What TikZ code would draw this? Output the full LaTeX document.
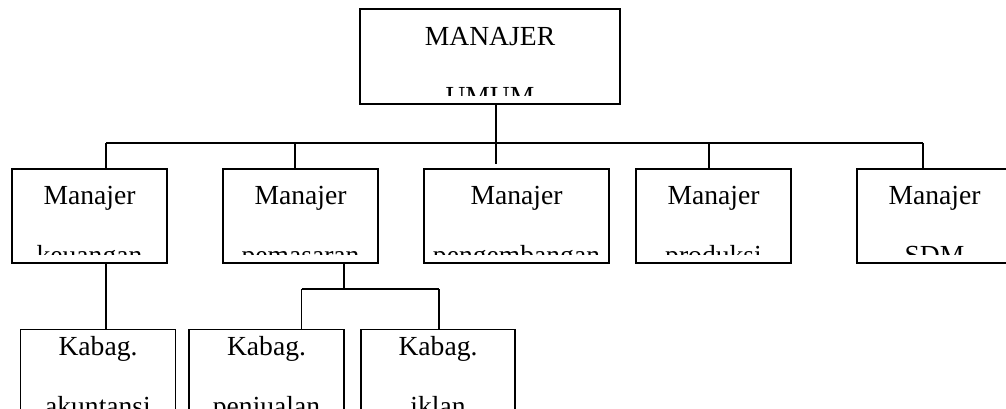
\documentclass[tikz,border=0pt]{standalone}
\usepackage{fontspec}
\setmainfont{Liberation Serif}
\begin{document}
\begin{tikzpicture}[x=1pt,y=-1pt,
  orgbox/.style={draw=black,line width=1.5pt,inner sep=0pt,outer sep=0pt,rectangle},
  lbl/.style={anchor=base,inner sep=0pt,font=\fontsize{27.6pt}{33pt}\selectfont},
  link/.style={draw=black,line width=1.5pt}]
\clip (0,0) rectangle (1006,408);
\fill[white] (0,0) rectangle (1006,408);
% ---------- boxes ----------
\node[orgbox,minimum width=260pt,minimum height=95pt] (top) at (490,56.5) {};
\node[orgbox,minimum width=155pt,minimum height=94pt] (keu) at (89.5,216) {};
\node[orgbox,minimum width=155pt,minimum height=94pt] (pem) at (300.5,216) {};
\node[orgbox,minimum width=185pt,minimum height=94pt] (pen) at (516.5,216) {};
\node[orgbox,minimum width=155pt,minimum height=94pt] (pro) at (713.5,216) {};
\node[orgbox,minimum width=155pt,minimum height=94pt] (sdm) at (934.5,216) {};
\node[orgbox,minimum width=155pt,minimum height=120pt] (aku) at (98,389.3) {};
\node[orgbox,minimum width=155pt,minimum height=120pt] (jual) at (266.5,389.3) {};
\node[orgbox,minimum width=154pt,minimum height=120pt] (ikl) at (438,389.3) {};
% ---------- texts (second lines clipped as in the reference) ----------
\begin{scope}\clip (360,9) rectangle (620,95);
  \node[lbl] (tTop1) at (490,45) {MANAJER};
  \node[lbl] (tTop2) at (490,105) {UMUM};
\end{scope}
\begin{scope}\clip (12,169) rectangle (167,254);
  \node[lbl] (tKeu1) at (89.5,204) {Manajer};
  \node[lbl] (tKeu2) at (89.5,264) {keuangan};
\end{scope}
\begin{scope}\clip (223,169) rectangle (378,254);
  \node[lbl] (tPem1) at (300.5,204) {Manajer};
  \node[lbl] (tPem2) at (300.5,264) {pemasaran};
\end{scope}
\begin{scope}\clip (424,169) rectangle (609,254);
  \node[lbl] (tPen1) at (516.5,204) {Manajer};
  \node[lbl] (tPen2) at (516.5,264) {pengembangan};
\end{scope}
\begin{scope}\clip (636,169) rectangle (791,254);
  \node[lbl] (tPro1) at (713.5,204) {Manajer};
  \node[lbl] (tPro2) at (713.5,264) {produksi};
\end{scope}
\begin{scope}\clip (857,169) rectangle (1012,254);
  \node[lbl] (tSdm1) at (934.5,204) {Manajer};
  \node[lbl] (tSdm2) at (934.5,264) {SDM};
\end{scope}
\node[lbl] (tAku1) at (98,355) {Kabag.};
\node[lbl] (tAku2) at (98,415) {akuntansi};
\node[lbl] (tJual1) at (266.5,355) {Kabag.};
\node[lbl] (tJual2) at (266.5,415) {penjualan};
\node[lbl] (tIkl1) at (438,355) {Kabag.};
\node[lbl] (tIkl2) at (438,415) {iklan};
% ---------- connectors ----------
\coordinate (jTop) at (496,143);
\coordinate (stemEnd) at (496,164);
\coordinate (jKeu) at (106,143);
\coordinate (jPem) at (295,143);
\coordinate (jPro) at (709,143);
\coordinate (jSdm) at (923,143);
\coordinate (jSub) at (344,289);
\coordinate (jJual) at (301.7,289);
\coordinate (jIkl) at (439,289);
\draw[link] (top.south -| jTop) -- (stemEnd);
\draw[link] (jKeu) -- (jSdm);
\draw[link] (jKeu) -- (jKeu |- keu.north);
\draw[link] (jPem) -- (jPem |- pem.north);
\draw[link] (jPro) -- (jPro |- pro.north);
\draw[link] (jSdm) -- (jSdm |- sdm.north);
\draw[link] (keu.south -| jKeu) -- (jKeu |- aku.north);
\draw[link] (pem.south -| jSub) -- (jSub);
\draw[link] (jJual) -- (jIkl);
\draw[link] (jJual) -- (jJual |- jual.north);
\draw[link] (jIkl) -- (jIkl |- ikl.north);
\end{tikzpicture}
\end{document}
